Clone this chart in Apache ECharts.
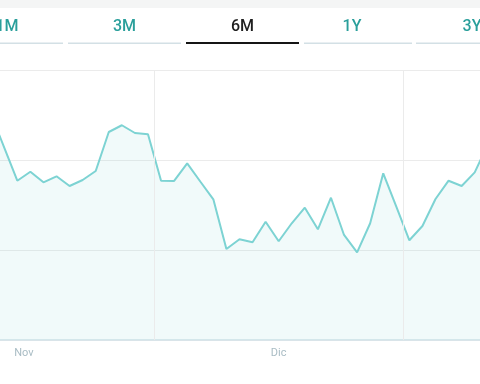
<!DOCTYPE html>
<html>
<head>
<meta charset="utf-8">
<script src="https://cdn.jsdelivr.net/npm/echarts@6/dist/echarts.min.js"></script>
<style>
html,body{margin:0;padding:0;background:#fff;}
#c{width:480px;height:384px;}
</style>
</head>
<body>
<div id="c"></div>
<script>
// Data (index positions along the x axis and price values)
const values = [115.04, 111.38, 107.70, 108.70, 107.52, 108.19, 107.11, 107.78, 108.78, 113.11,
  113.86, 113.00, 112.86, 107.70, 107.67, 109.63, 107.61, 105.63, 100.11, 101.19,
  100.86, 103.14, 100.97, 102.97, 104.70, 102.30, 105.81, 101.67, 99.74, 102.97,
  108.52, 104.81, 101.08, 102.67, 105.67, 107.70, 107.11, 108.63, 111.71];
const monthLabels = ['Nov', 'Dic'];
const monthPositions = [2.5, 22.0];
const gridPositions = [12.5, 31.5];
const viewRange = [0.676, 37.404];
const tabLabels = ['1M', '3M', '6M', '1Y', '3Y'];
const activeTab = '6M';

const seriesData = values.map((v, i) => [i, v]);

const tabCenters = [7, 124.5, 242.5, 352, 472];
const tabSegs = [[-50, 63], [68, 181], [186, 299], [304, 412], [416, 530]];
const graphics = [
  {type: 'rect', shape: {x: 0, y: 0, width: 480, height: 8}, style: {fill: '#f4f5f5'}, silent: true}
];
tabLabels.forEach((t, k) => {
  const active = t === activeTab;
  graphics.push({
    type: 'rect',
    shape: {x: tabSegs[k][0], y: active ? 42 : 42.5, width: tabSegs[k][1] - tabSegs[k][0], height: active ? 2 : 1.5},
    style: {fill: active ? '#151515' : '#d3e0e5'}, silent: true
  });
  graphics.push({
    type: 'text', x: tabCenters[k], y: 27,
    style: {text: t, fill: active ? '#1e1e1e' : '#2a9f9b', font: '500 16px Roboto', textAlign: 'center', textVerticalAlign: 'middle'},
    silent: true
  });
});

const chart = echarts.init(document.getElementById('c'), null, {renderer: 'canvas'});
chart.setOption({
  animation: false,
  graphic: graphics,
  grid: {left: 0, right: 0, top: 70, bottom: 44, containLabel: false},
  xAxis: {
    type: 'value', min: viewRange[0], max: viewRange[1],
    axisLine: {show: true, lineStyle: {color: '#d3e2e8', width: 1.5}},
    axisTick: {show: false},
    splitLine: {show: false},
    axisLabel: {
      show: true, customValues: monthPositions, color: '#a9bcc4', fontSize: 11, fontFamily: 'Roboto', margin: 8,
      formatter: function (v) {
        const idx = monthPositions.findIndex(p => Math.abs(p - v) < 1e-6);
        return idx >= 0 ? monthLabels[idx] : '';
      }
    }
  },
  yAxis: {
    type: 'value', min: 90, max: 120, interval: 10,
    axisLine: {show: false}, axisTick: {show: false}, axisLabel: {show: false},
    splitLine: {show: true, lineStyle: {color: '#ebebeb', width: 1}}
  },
  series: [{
    type: 'line',
    data: seriesData,
    showSymbol: false,
    clip: true,
    lineStyle: {color: '#7dd3d3', width: 2},
    areaStyle: {color: 'rgba(125,211,211,0.15)'},
    markLine: {
      silent: true, symbol: 'none', label: {show: false},
      lineStyle: {color: '#ebebeb', type: 'solid', width: 1},
      data: gridPositions.map(p => ({xAxis: p}))
    },
    z: 2
  }]
});
</script>
</body>
</html>
